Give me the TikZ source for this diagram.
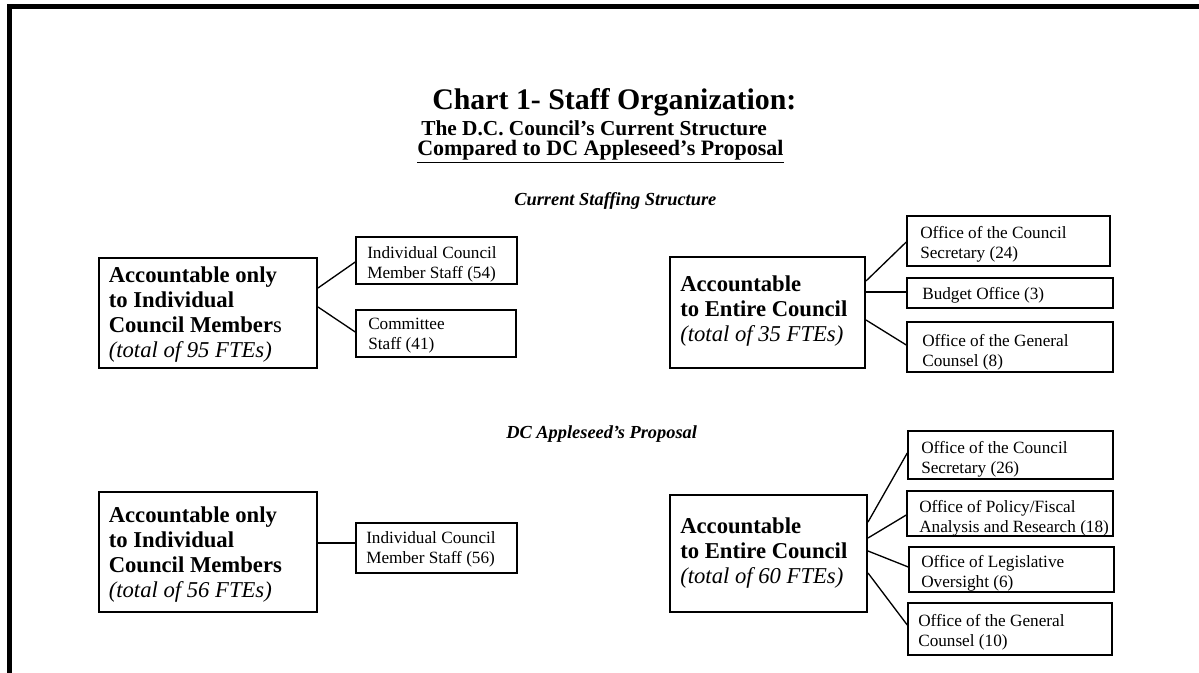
\documentclass[tikz,border=0pt]{standalone}
\usepackage{fontspec}
\setmainfont{Liberation Serif}
\usetikzlibrary{calc}
\begin{document}
\begin{tikzpicture}[x=0.75pt,y=-0.75pt,
  bigbox/.style={draw,line width=1.5pt,inner sep=0pt},
  smallbox/.style={draw,line width=1.1pt,inner sep=0pt},
  bigtxt/.style={anchor=base west,align=left,inner sep=0pt,font=\fontsize{17}{18.75}\selectfont},
  smalltxt/.style={anchor=base west,align=left,inner sep=0pt,font=\fontsize{12.9}{14.5}\selectfont},
  headtxt/.style={anchor=base west,inner sep=0pt},
  conn/.style={line width=1pt}]
\useasboundingbox (0,0) rectangle (1199,673);
\fill (7,4) rectangle (1199,9);
\fill (7,4) rectangle (12,673);

% titles
\node[headtxt,font=\fontsize{22.4}{26}\selectfont\bfseries] (title) at (432,110) {Chart 1- Staff Organization:};
\node[headtxt,font=\fontsize{16}{19}\selectfont\bfseries] (sub1) at (421,136) {The D.C. Council’s Current Structure};
\node[headtxt,font=\fontsize{16.5}{19}\selectfont\bfseries] (sub2) at (417,156) {\underline{Compared to DC Appleseed’s Proposal}};
\node[headtxt,font=\fontsize{13.8}{15}\selectfont\bfseries\itshape] (h1) at (514,206) {Current Staffing Structure};
\node[headtxt,font=\fontsize{13.8}{15}\selectfont\bfseries\itshape] (h2) at (506,438) {DC Appleseed’s Proposal};

% boxes - current
\node[bigbox,minimum width=163.5pt,minimum height=82.5pt] (a1) at (208,313) {};
\node[smallbox,minimum width=120.75pt,minimum height=35.25pt] (b1) at (436.5,260.5) {};
\node[smallbox,minimum width=120pt,minimum height=35.25pt] (b2) at (436,333.5) {};
\node[bigbox,minimum width=146.25pt,minimum height=83.25pt] (c1) at (767.5,312.5) {};
\node[smallbox,minimum width=152.25pt,minimum height=37.5pt] (d1) at (1008.5,241) {};
\node[smallbox,minimum width=154.5pt,minimum height=22.5pt] (d2) at (1010,293) {};
\node[smallbox,minimum width=154.5pt,minimum height=37.5pt] (d3) at (1010,347) {};

% boxes - proposal
\node[bigbox,minimum width=163.5pt,minimum height=90pt] (a2) at (208,552) {};
\node[smallbox,minimum width=120.75pt,minimum height=37.5pt] (b3) at (436.5,548) {};
\node[bigbox,minimum width=147.75pt,minimum height=87.75pt] (c2) at (768.5,553.5) {};
\node[smallbox,minimum width=153.75pt,minimum height=36pt] (e1) at (1010.5,455) {};
\node[smallbox,minimum width=154.5pt,minimum height=33.75pt] (e2) at (1010,513.5) {};
\node[smallbox,minimum width=153.75pt,minimum height=33.75pt] (e3) at (1011.5,569.5) {};
\node[smallbox,minimum width=153pt,minimum height=39pt] (e4) at (1010,629) {};

% texts (anchored at last baseline)
\node[bigtxt] (a1t) at (108.5,358) {\textbf{Accountable only}\\\textbf{to Individual}\\\textbf{Council Member}s\\\textit{(total of 95 FTEs)}};
\node[bigtxt] (c1t) at (680,342) {\textbf{Accountable}\\\textbf{to Entire Council}\\\textit{(total of 35 FTEs)}};
\node[bigtxt] (a2t) at (108.5,597) {\textbf{Accountable only}\\\textbf{to Individual}\\\textbf{Council Members}\\\textit{(total of 56 FTEs)}};
\node[bigtxt] (c2t) at (680,583) {\textbf{Accountable}\\\textbf{to Entire Council}\\\textit{(total of 60 FTEs)}};

\node[smalltxt] (b1t) at (367,278.3) {Individual Council\\Member Staff (54)};
\node[smalltxt] (b2t) at (368,349.3) {Committee\\Staff (41)};
\node[smalltxt] (b3t) at (366,563.3) {Individual Council\\Member Staff (56)};
\node[smalltxt] (d1t) at (920,258.3) {Office of the Council\\Secretary (24)};
\node[smalltxt] (d2t) at (922,300) {Budget Office (3)};
\node[smalltxt] (d3t) at (922,366.3) {Office of the General\\Counsel (8)};
\node[smalltxt] (e1t) at (921,473.3) {Office of the Council\\Secretary (26)};
\node[smalltxt] (e2t) at (919,532.3) {Office of Policy/Fiscal\\Analysis and Research (18)};
\node[smalltxt] (e3t) at (921,587.3) {Office of Legislative\\Oversight (6)};
\node[smalltxt] (e4t) at (918,646.3) {Office of the General\\Counsel (10)};

% connectors
\draw[conn] ($(a1.east)+(0,-25)$) -- ($(b1.west)+(0,1.5)$);
\draw[conn] ($(a1.east)+(0,-6)$) -- ($(b2.west)+(0,-1.5)$);
\draw[conn] ($(a2.east)+(0,-9)$) -- ($(b3.west)+(0,-5)$);
\draw[conn] ($(c1.east)+(0,-31.5)$) -- ($(d1.west)+(0,1)$);
\draw[conn] ($(c1.east)+(0,-20.5)$) -- ($(d2.west)+(0,-1)$);
\draw[conn] ($(c1.east)+(0,7.5)$) -- ($(d3.west)+(0,-2)$);
\draw[conn] ($(c2.east)+(0,-31.5)$) -- ($(e1.west)+(0,-2)$);
\draw[conn] ($(c2.east)+(0,-15.5)$) -- ($(e2.west)+(0,1.5)$);
\draw[conn] ($(c2.east)+(0,-2.5)$) -- ($(e3.west)+(0,-2.5)$);
\draw[conn] ($(c2.east)+(0,19.5)$) -- ($(e4.west)+(0,-4)$);
\end{tikzpicture}
\end{document}
